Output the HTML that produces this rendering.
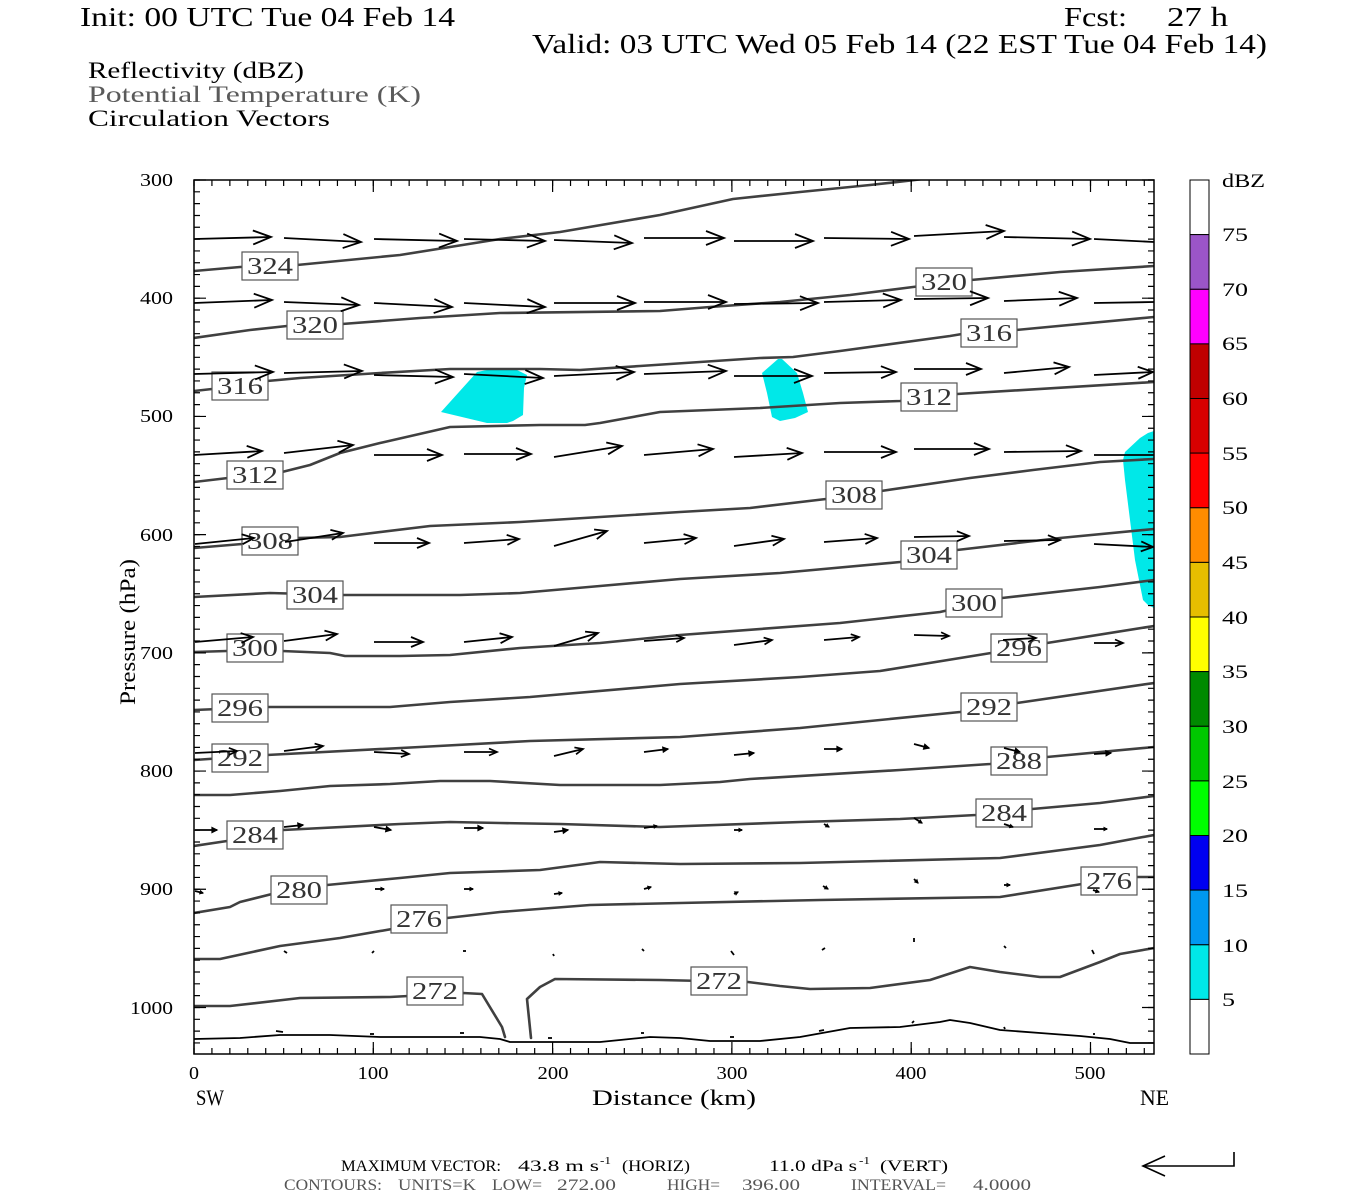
<!DOCTYPE html>
<html><head><meta charset="utf-8"><style>
html,body{margin:0;padding:0;background:#fff;}
svg{display:block;font-family:"Liberation Serif",serif;}
.lb rect{fill:#fff;stroke:#555;stroke-width:1.2;}
.lb text{font-size:24px;fill:#333;text-anchor:middle;}
.ct{fill:none;stroke:#404040;stroke-width:2.6;stroke-linejoin:round;stroke-linecap:round;}
.ar path{fill:none;stroke:#000;stroke-width:1.8;}
</style></head><body>
<svg width="1350" height="1200" viewBox="0 0 1350 1200" xmlns="http://www.w3.org/2000/svg">
<defs>
<clipPath id="pc"><rect x="194" y="180" width="960" height="874"/></clipPath>
<marker id="a18" viewBox="-20 -10 22 20" markerWidth="22" markerHeight="20" refX="0" refY="0" orient="auto" markerUnits="userSpaceOnUse" overflow="visible"><path d="M-18,-7L0,0L-18,7" fill="none" stroke="#000" stroke-width="1.8"/></marker>
<marker id="a15" viewBox="-20 -10 22 20" markerWidth="22" markerHeight="20" refX="0" refY="0" orient="auto" markerUnits="userSpaceOnUse" overflow="visible"><path d="M-15,-6L0,0L-15,6" fill="none" stroke="#000" stroke-width="1.8"/></marker>
<marker id="a12" viewBox="-20 -10 22 20" markerWidth="22" markerHeight="20" refX="0" refY="0" orient="auto" markerUnits="userSpaceOnUse" overflow="visible"><path d="M-12,-5L0,0L-12,5" fill="none" stroke="#000" stroke-width="1.8"/></marker>
<marker id="a8" viewBox="-20 -10 22 20" markerWidth="22" markerHeight="20" refX="0" refY="0" orient="auto" markerUnits="userSpaceOnUse" overflow="visible"><path d="M-8,-3.5L0,0L-8,3.5" fill="none" stroke="#000" stroke-width="1.7"/></marker>
<marker id="a5" viewBox="-20 -10 22 20" markerWidth="22" markerHeight="20" refX="0" refY="0" orient="auto" markerUnits="userSpaceOnUse" overflow="visible"><path d="M-5,-2.5L0,0L-5,2.5Z" fill="#000" stroke="#000" stroke-width="1.2"/></marker>
<marker id="a3" viewBox="-20 -10 22 20" markerWidth="22" markerHeight="20" refX="0" refY="0" orient="auto" markerUnits="userSpaceOnUse" overflow="visible"><path d="M-3,-1.6L0,0L-3,1.6Z" fill="#000" stroke="#000" stroke-width="1"/></marker>
</defs>

<!-- Titles -->
<text x="80" y="26" font-size="27" textLength="375" lengthAdjust="spacingAndGlyphs">Init: 00 UTC Tue 04 Feb 14</text>
<text x="1064" y="26" font-size="27" textLength="63" lengthAdjust="spacingAndGlyphs">Fcst:</text>
<text x="1167" y="26" font-size="27" textLength="61" lengthAdjust="spacingAndGlyphs">27 h</text>
<text x="532" y="53" font-size="27" textLength="735" lengthAdjust="spacingAndGlyphs">Valid: 03 UTC Wed 05 Feb 14 (22 EST Tue 04 Feb 14)</text>
<text x="88" y="78" font-size="23" textLength="216" lengthAdjust="spacingAndGlyphs">Reflectivity (dBZ)</text>
<text x="88" y="102" font-size="23" fill="#5a5a5a" textLength="333" lengthAdjust="spacingAndGlyphs">Potential Temperature (K)</text>
<text x="88" y="126" font-size="23" textLength="242" lengthAdjust="spacingAndGlyphs">Circulation Vectors</text>

<!-- Plot content -->
<g clip-path="url(#pc)">
<polygon fill="#00e8e8" points="441,412 477,372 487,370 517,370 527,375 524,388 523,415 513,421 507,423 487,423"/>
<polygon fill="#00e8e8" points="762,373 778,359 782,359 797,373 803,393 808,412 795,418 780,421 772,417 767,393"/>
<polygon fill="#00e8e8" points="1154,431 1148,433 1140,438 1125,452 1123,460 1125,480 1130,520 1135,560 1141,590 1143,600 1148,605 1154,608"/>

<polyline class="ct" points="194,271 240,267 297,265 400,255 500,239 560,232 660,215 733,199 800,192 870,185 915,180 930,178"/>
<polyline class="ct" points="194,338 250,330 287,326 342,324 420,318 500,313 660,311 710,307 780,302 850,295 913,287 971,280 1060,272 1154,266"/>
<polyline class="ct" points="194,391 212,389 267,381 300,378 380,373 450,369 540,369 580,370 640,366 700,362 760,358 793,357 840,351 950,336 962,334 1016,330 1154,317"/>
<polyline class="ct" points="194,482 228,478 282,472 310,465 340,453 380,443 450,427 540,425 585,425 600,423 660,412 760,408 840,403 900,401 957,394 1154,382"/>
<polyline class="ct" points="194,548 242,544 297,538 340,537 430,526 520,522 600,517 680,512 750,508 826,499 881,491 970,478 1033,470 1100,462 1154,459"/>
<polyline class="ct" points="194,597 270,593 343,595 460,595 520,593 600,586 680,579 780,573 900,562 957,550 1060,538 1154,529"/>
<polyline class="ct" points="194,652 227,651 282,651 330,653 345,656 400,656 450,655 520,648 600,643 680,635 840,623 940,612 1002,598 1100,587 1154,580"/>
<polyline class="ct" points="194,710 267,707 390,707 450,702 530,697 680,684 800,677 880,671 991,653 1047,643 1154,626"/>
<polyline class="ct" points="194,760 267,755 420,747 530,741 680,737 800,728 960,712 1017,703 1154,683"/>
<polyline class="ct" points="194,795 230,795 280,791 330,786 390,784 440,781 490,781 560,785 660,785 720,782 750,779 900,770 990,764 1047,757 1154,747"/>
<polyline class="ct" points="194,846 227,841 283,830 400,824 450,822 500,823 560,824 660,827 800,822 900,819 976,815 1032,809 1100,803 1154,796"/>
<polyline class="ct" points="194,913 230,907 240,902 272,894 327,885 400,878 450,873 540,870 600,862 680,864 800,863 1000,858 1100,845 1154,835"/>
<polyline class="ct" points="194,959 220,959 280,946 340,938 392,929 447,918 500,912 590,905 680,903 820,900 1000,897 1082,884 1137,877 1154,877"/>
<polyline class="ct" points="194,1006 230,1006 300,998 390,997 463,993 482,994 502,1027 505,1037"/>
<polyline class="ct" points="531,1038 527,999 540,987 555,979 660,980 748,982 780,986 810,989 870,988 930,980 970,967 1000,972 1040,977 1060,977 1100,962 1120,954 1154,948"/>
<polyline fill="none" stroke="#000" stroke-width="1.8" stroke-linejoin="round" points="194,1039 240,1038 280,1035 330,1035 380,1037 480,1037 500,1039 510,1042 600,1042 620,1040 650,1037 680,1038 710,1041 760,1041 800,1037 850,1028 900,1027 940,1022 950,1020 970,1023 1000,1030 1040,1033 1080,1036 1110,1039 1130,1043 1154,1043"/>

<g class="lb">
<rect x="242" y="252" width="56" height="28"/><text x="270" y="274" textLength="46" lengthAdjust="spacingAndGlyphs">324</text>
<rect x="287" y="311" width="56" height="28"/><text x="315" y="333" textLength="46" lengthAdjust="spacingAndGlyphs">320</text>
<rect x="916" y="268" width="56" height="28"/><text x="944" y="290" textLength="46" lengthAdjust="spacingAndGlyphs">320</text>
<rect x="212" y="372" width="56" height="28"/><text x="240" y="394" textLength="46" lengthAdjust="spacingAndGlyphs">316</text>
<rect x="961" y="319" width="56" height="28"/><text x="989" y="341" textLength="46" lengthAdjust="spacingAndGlyphs">316</text>
<rect x="227" y="461" width="56" height="28"/><text x="255" y="483" textLength="46" lengthAdjust="spacingAndGlyphs">312</text>
<rect x="901" y="383" width="56" height="28"/><text x="929" y="405" textLength="46" lengthAdjust="spacingAndGlyphs">312</text>
<rect x="242" y="527" width="56" height="28"/><text x="270" y="549" textLength="46" lengthAdjust="spacingAndGlyphs">308</text>
<rect x="826" y="481" width="56" height="28"/><text x="854" y="503" textLength="46" lengthAdjust="spacingAndGlyphs">308</text>
<rect x="287" y="581" width="56" height="28"/><text x="315" y="603" textLength="46" lengthAdjust="spacingAndGlyphs">304</text>
<rect x="901" y="541" width="56" height="28"/><text x="929" y="563" textLength="46" lengthAdjust="spacingAndGlyphs">304</text>
<rect x="227" y="634" width="56" height="28"/><text x="255" y="656" textLength="46" lengthAdjust="spacingAndGlyphs">300</text>
<rect x="946" y="589" width="56" height="28"/><text x="974" y="611" textLength="46" lengthAdjust="spacingAndGlyphs">300</text>
<rect x="212" y="694" width="56" height="28"/><text x="240" y="716" textLength="46" lengthAdjust="spacingAndGlyphs">296</text>
<rect x="991" y="634" width="56" height="28"/><text x="1019" y="656" textLength="46" lengthAdjust="spacingAndGlyphs">296</text>
<rect x="212" y="744" width="56" height="28"/><text x="240" y="766" textLength="46" lengthAdjust="spacingAndGlyphs">292</text>
<rect x="961" y="693" width="56" height="28"/><text x="989" y="715" textLength="46" lengthAdjust="spacingAndGlyphs">292</text>
<rect x="991" y="747" width="56" height="28"/><text x="1019" y="769" textLength="46" lengthAdjust="spacingAndGlyphs">288</text>
<rect x="227" y="821" width="56" height="28"/><text x="255" y="843" textLength="46" lengthAdjust="spacingAndGlyphs">284</text>
<rect x="976" y="799" width="56" height="28"/><text x="1004" y="821" textLength="46" lengthAdjust="spacingAndGlyphs">284</text>
<rect x="271" y="876" width="56" height="28"/><text x="299" y="898" textLength="46" lengthAdjust="spacingAndGlyphs">280</text>
<rect x="391" y="905" width="56" height="28"/><text x="419" y="927" textLength="46" lengthAdjust="spacingAndGlyphs">276</text>
<rect x="1081" y="867" width="56" height="28"/><text x="1109" y="889" textLength="46" lengthAdjust="spacingAndGlyphs">276</text>
<rect x="407" y="977" width="56" height="28"/><text x="435" y="999" textLength="46" lengthAdjust="spacingAndGlyphs">272</text>
<rect x="691" y="967" width="56" height="28"/><text x="719" y="989" textLength="46" lengthAdjust="spacingAndGlyphs">272</text>
</g>

<g class="ar">
<g marker-end="url(#a18)">
<path d="M194,239L271,237"/><path d="M284,238L361,242"/><path d="M374,239L457,241"/><path d="M464,239L545,241"/><path d="M554,240L632,243"/><path d="M644,238L724,238"/><path d="M734,241L813,241"/><path d="M824,238L909,239"/><path d="M914,236L1004,231"/><path d="M1004,237L1090,239"/>
<path d="M194,303L272,300"/><path d="M284,302L359,305"/><path d="M374,303L452,307"/><path d="M464,303L545,307"/><path d="M554,303L635,303"/><path d="M644,302L726,302"/><path d="M734,304L818,303"/><path d="M824,302L901,300"/><path d="M914,299L988,298"/><path d="M1004,301L1077,298"/>
<path d="M194,374L273,372"/><path d="M284,373L362,371"/><path d="M374,375L453,377"/><path d="M464,374L543,378"/><path d="M554,376L634,372"/><path d="M644,374L726,371"/><path d="M734,376L812,376"/>
</g>
<path d="M1094,239L1154,242"/><path d="M1094,303L1154,302"/><path d="M1094,455L1154,455"/>
<g marker-end="url(#a15)">
<path d="M824,373L896,372"/><path d="M914,369L981,369"/><path d="M1004,373L1069,367"/><path d="M1094,375L1153,372"/>
<path d="M194,455L262,451"/><path d="M284,453L353,445"/><path d="M374,455L442,455"/><path d="M464,454L531,454"/><path d="M554,457L622,446"/><path d="M644,455L713,449"/><path d="M734,457L802,453"/><path d="M824,452L896,452"/><path d="M914,449L989,449"/><path d="M1004,452L1081,451"/>
</g>
<g marker-end="url(#a12)">
<path d="M195,544L254,538"/><path d="M285,542L343,533"/><path d="M374,543L429,543"/><path d="M464,543L519,539"/><path d="M554,546L607,531"/><path d="M644,543L696,538"/><path d="M734,546L784,539"/><path d="M824,542L877,538"/><path d="M914,537L969,536"/><path d="M1004,541L1060,540"/><path d="M1094,544L1153,547"/>
<path d="M195,642L253,637"/><path d="M284,641L337,634"/><path d="M374,642L423,642"/><path d="M464,642L512,637"/><path d="M554,646L598,633"/>
</g>
<g marker-end="url(#a8)">
<path d="M644,641L684,638"/><path d="M734,645L772,640"/><path d="M824,640L859,637"/><path d="M914,635L949,636"/><path d="M1003,640L1036,638"/><path d="M1094,643L1123,643"/>
<path d="M195,753L237,751"/><path d="M284,751L323,746"/><path d="M374,752L409,754"/><path d="M464,752L497,752"/><path d="M554,756L583,749"/>
</g>
<g marker-end="url(#a5)">
<path d="M644,752L668,749"/><path d="M734,755L754,753"/><path d="M824,749L842,749"/><path d="M914,744L929,748"/><path d="M1004,748L1020,752"/><path d="M1094,754L1111,753"/>
<path d="M195,830L217,830"/><path d="M284,827L303,825"/><path d="M374,827L391,830"/><path d="M464,828L483,828"/><path d="M554,832L568,830"/>
</g>
<g marker-end="url(#a3)">
<path d="M644,828L657,826"/><path d="M734,830L742,830"/><path d="M824,824L829,827"/><path d="M914,818L922,823"/><path d="M1004,824L1013,827"/><path d="M1094,829L1107,829"/>
<path d="M195,891L203,893"/><path d="M375,889L384,889"/><path d="M464,889L473,889"/><path d="M554,894L562,893"/><path d="M644,889L651,887"/><path d="M734,894L738,892"/><path d="M823,886L828,889"/><path d="M914,879L918,883"/><path d="M1004,885L1010,885"/><path d="M1093,890L1099,892"/>
</g>
<g style="stroke-width:2">
<path d="M284,951L287,953"/><path d="M372,953L374,951"/><path d="M463,951L466,951"/><path d="M553,954L554,956"/><path d="M642,949L644,951"/><path d="M731,951L734,955"/><path d="M822,950L825,948"/><path d="M914,938L914,942"/><path d="M1004,946L1006,948"/><path d="M1092,950L1094,954"/>
<path d="M283,1032L276,1031"/><path d="M374,1034L370,1034"/><path d="M464,1033L460,1033"/><path d="M552,1038L548,1038"/><path d="M644,1033L641,1033"/><path d="M734,1037L730,1037"/><path d="M824,1030L819,1031"/><path d="M914,1021L912,1023"/><path d="M1004,1027L1005,1029"/><path d="M1094,1033L1094,1035"/>
</g>
</g>
</g>

<rect x="194" y="180" width="960" height="874" fill="none" stroke="#000" stroke-width="1.5"/>
<g stroke="#000" fill="none">
<line x1="197" y1="179.4" x2="197" y2="1054" stroke-width="6" stroke-dasharray="1.2 10.621"/>
<line x1="200" y1="179.4" x2="200" y2="1054" stroke-width="12" stroke-dasharray="1.2 117.01"/>
<line x1="1151" y1="179.4" x2="1151" y2="1054" stroke-width="6" stroke-dasharray="1.2 10.621"/>
<line x1="1148" y1="179.4" x2="1148" y2="1054" stroke-width="12" stroke-dasharray="1.2 117.01"/>
<line x1="193.4" y1="183" x2="1154" y2="183" stroke-width="6" stroke-dasharray="1.2 16.73"/>
<line x1="193.4" y1="186" x2="1154" y2="186" stroke-width="12" stroke-dasharray="1.2 178.1"/>
<line x1="193.4" y1="1051" x2="1154" y2="1051" stroke-width="6" stroke-dasharray="1.2 16.73"/>
<line x1="193.4" y1="1048" x2="1154" y2="1048" stroke-width="12" stroke-dasharray="1.2 178.1"/>
</g>

<g font-size="18" text-anchor="end">
<text x="173" y="186" textLength="33" lengthAdjust="spacingAndGlyphs">300</text>
<text x="173" y="304" textLength="33" lengthAdjust="spacingAndGlyphs">400</text>
<text x="173" y="422" textLength="33" lengthAdjust="spacingAndGlyphs">500</text>
<text x="173" y="541" textLength="33" lengthAdjust="spacingAndGlyphs">600</text>
<text x="173" y="659" textLength="33" lengthAdjust="spacingAndGlyphs">700</text>
<text x="173" y="777" textLength="33" lengthAdjust="spacingAndGlyphs">800</text>
<text x="173" y="895" textLength="33" lengthAdjust="spacingAndGlyphs">900</text>
<text x="173" y="1014" textLength="43" lengthAdjust="spacingAndGlyphs">1000</text>
</g>
<g font-size="18" text-anchor="middle">
<text x="194" y="1079" textLength="10" lengthAdjust="spacingAndGlyphs">0</text>
<text x="373" y="1079" textLength="31" lengthAdjust="spacingAndGlyphs">100</text>
<text x="553" y="1079" textLength="31" lengthAdjust="spacingAndGlyphs">200</text>
<text x="732" y="1079" textLength="31" lengthAdjust="spacingAndGlyphs">300</text>
<text x="911" y="1079" textLength="31" lengthAdjust="spacingAndGlyphs">400</text>
<text x="1090" y="1079" textLength="31" lengthAdjust="spacingAndGlyphs">500</text>
</g>
<text x="196" y="1105" font-size="22" textLength="28" lengthAdjust="spacingAndGlyphs">SW</text>
<text x="592" y="1105" font-size="22" textLength="164" lengthAdjust="spacingAndGlyphs">Distance (km)</text>
<text x="1140" y="1105" font-size="22" textLength="29" lengthAdjust="spacingAndGlyphs">NE</text>
<text transform="translate(135,632) rotate(-90)" font-size="22" text-anchor="middle" textLength="146" lengthAdjust="spacingAndGlyphs">Pressure (hPa)</text>

<g stroke="#000" stroke-width="1">
<rect x="1190" y="180" width="19" height="54.6" fill="#fff"/>
<rect x="1190" y="234.6" width="19" height="54.7" fill="#9b55c8"/>
<rect x="1190" y="289.3" width="19" height="54.6" fill="#ff00ff"/>
<rect x="1190" y="343.9" width="19" height="54.6" fill="#c00000"/>
<rect x="1190" y="398.5" width="19" height="54.6" fill="#d80000"/>
<rect x="1190" y="453.1" width="19" height="54.7" fill="#ff0000"/>
<rect x="1190" y="507.8" width="19" height="54.6" fill="#ff8c00"/>
<rect x="1190" y="562.4" width="19" height="54.6" fill="#e6be00"/>
<rect x="1190" y="617" width="19" height="54.6" fill="#ffff00"/>
<rect x="1190" y="671.6" width="19" height="54.7" fill="#008a00"/>
<rect x="1190" y="726.3" width="19" height="54.6" fill="#00c800"/>
<rect x="1190" y="780.9" width="19" height="54.6" fill="#00ff00"/>
<rect x="1190" y="835.5" width="19" height="54.6" fill="#0000f0"/>
<rect x="1190" y="890.1" width="19" height="54.7" fill="#0098f0"/>
<rect x="1190" y="944.8" width="19" height="54.6" fill="#00e8e8"/>
<rect x="1190" y="999.4" width="19" height="54.6" fill="#fff"/>
</g>
<g font-size="19">
<text x="1222" y="187" textLength="43" lengthAdjust="spacingAndGlyphs">dBZ</text>
<text x="1222" y="241" textLength="26" lengthAdjust="spacingAndGlyphs">75</text>
<text x="1222" y="296" textLength="26" lengthAdjust="spacingAndGlyphs">70</text>
<text x="1222" y="350" textLength="26" lengthAdjust="spacingAndGlyphs">65</text>
<text x="1222" y="405" textLength="26" lengthAdjust="spacingAndGlyphs">60</text>
<text x="1222" y="460" textLength="26" lengthAdjust="spacingAndGlyphs">55</text>
<text x="1222" y="514" textLength="26" lengthAdjust="spacingAndGlyphs">50</text>
<text x="1222" y="569" textLength="26" lengthAdjust="spacingAndGlyphs">45</text>
<text x="1222" y="624" textLength="26" lengthAdjust="spacingAndGlyphs">40</text>
<text x="1222" y="678" textLength="26" lengthAdjust="spacingAndGlyphs">35</text>
<text x="1222" y="733" textLength="26" lengthAdjust="spacingAndGlyphs">30</text>
<text x="1222" y="788" textLength="26" lengthAdjust="spacingAndGlyphs">25</text>
<text x="1222" y="842" textLength="26" lengthAdjust="spacingAndGlyphs">20</text>
<text x="1222" y="897" textLength="26" lengthAdjust="spacingAndGlyphs">15</text>
<text x="1222" y="952" textLength="26" lengthAdjust="spacingAndGlyphs">10</text>
<text x="1222" y="1006" textLength="13" lengthAdjust="spacingAndGlyphs">5</text>
</g>

<g font-size="16">
<text x="341" y="1171" textLength="160" lengthAdjust="spacingAndGlyphs">MAXIMUM VECTOR:</text>
<text x="518" y="1171" textLength="81" lengthAdjust="spacingAndGlyphs">43.8 m s</text>
<text x="600" y="1164" font-size="11" textLength="11" lengthAdjust="spacingAndGlyphs">-1</text>
<text x="622" y="1171" textLength="68" lengthAdjust="spacingAndGlyphs">(HORIZ)</text>
<text x="769" y="1171" textLength="88" lengthAdjust="spacingAndGlyphs">11.0 dPa s</text>
<text x="859" y="1164" font-size="11" textLength="11" lengthAdjust="spacingAndGlyphs">-1</text>
<text x="880" y="1171" textLength="68" lengthAdjust="spacingAndGlyphs">(VERT)</text>
</g>
<g font-size="16" fill="#555">
<text x="284" y="1190" textLength="98" lengthAdjust="spacingAndGlyphs">CONTOURS:</text>
<text x="398" y="1190" textLength="78" lengthAdjust="spacingAndGlyphs">UNITS=K</text>
<text x="492" y="1190" textLength="50" lengthAdjust="spacingAndGlyphs">LOW=</text>
<text x="557" y="1190" textLength="59" lengthAdjust="spacingAndGlyphs">272.00</text>
<text x="667" y="1190" textLength="53" lengthAdjust="spacingAndGlyphs">HIGH=</text>
<text x="742" y="1190" textLength="58" lengthAdjust="spacingAndGlyphs">396.00</text>
<text x="851" y="1190" textLength="95" lengthAdjust="spacingAndGlyphs">INTERVAL=</text>
<text x="973" y="1190" textLength="58" lengthAdjust="spacingAndGlyphs">4.0000</text>
</g>
<g fill="none" stroke="#000" stroke-width="1.6">
<path d="M1234,1152L1234,1166L1143,1166"/>
<path d="M1165,1156L1143,1166L1165,1176"/>
</g>
</svg>
</body></html>
